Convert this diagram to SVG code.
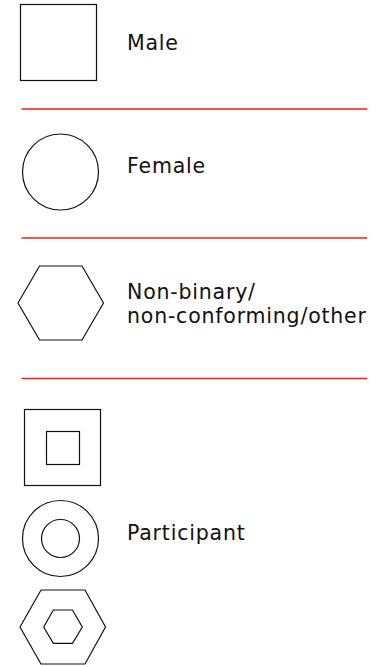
<svg xmlns="http://www.w3.org/2000/svg" width="374" height="667" viewBox="0 0 374 667">
<style>
.shape{fill:#fff;stroke:#111;stroke-width:1.2}
.sep{stroke:#ff1a1a;stroke-width:1.3}
.lbl{font-family:"DejaVu Sans",sans-serif;font-size:20.5px;fill:#111;letter-spacing:0.8px}
</style>
<rect width="374" height="667" fill="#fff"/>
<g id="male">
<rect class="shape" x="20.5" y="4.5" width="76" height="76"/>
<text class="lbl" x="127" y="50">Male</text>
</g>
<g id="sep1"><line class="sep" x1="21.5" y1="109" x2="367" y2="109"/></g>
<g id="female">
<circle class="shape" cx="60.5" cy="172" r="38"/>
<text class="lbl" x="127" y="173">Female</text>
</g>
<g id="sep2"><line class="sep" x1="21.5" y1="238" x2="367" y2="238"/></g>
<g id="nonbinary">
<polygon class="shape" points="18,303 39.5,266 82,266 103.5,303 82,340 39.5,340"/>
<text class="lbl" x="127" y="299">Non-binary/</text>
<text class="lbl" x="127" y="323">non-conforming/other</text>
</g>
<g id="sep3"><line class="sep" x1="21.5" y1="378.5" x2="367" y2="378.5"/></g>
<g id="participant">
<rect class="shape" x="24.5" y="409.5" width="76" height="76"/>
<rect class="shape" x="46.5" y="431.5" width="33" height="33"/>
<circle class="shape" cx="60.5" cy="538.5" r="38"/>
<circle class="shape" cx="60.5" cy="538.5" r="19"/>
<polygon class="shape" points="20,627 41,590 85,590 105.5,627 85,664 41,664"/>
<polygon class="shape" points="43.7,627 53.3,610 72.5,610 82.3,627 72.5,643.3 53.3,643.3"/>
<text class="lbl" x="127" y="540">Participant</text>
</g>
</svg>
